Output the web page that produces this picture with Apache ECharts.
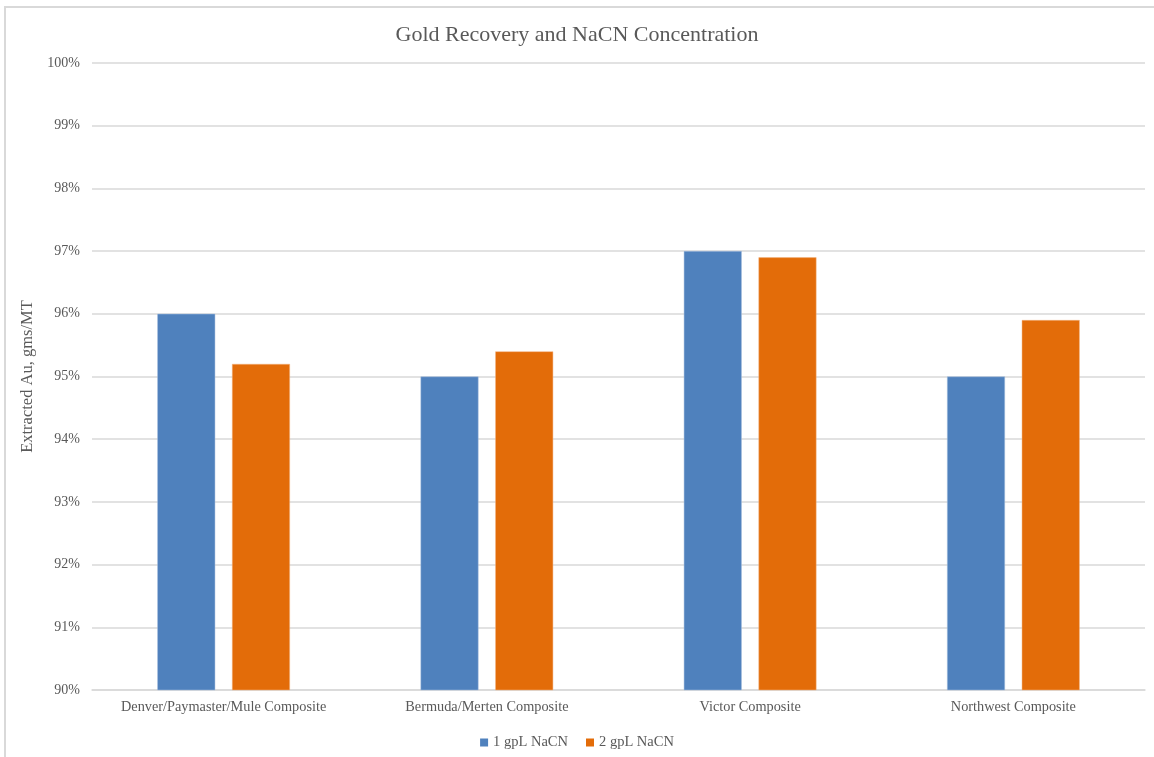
<!DOCTYPE html>
<html>
<head>
<meta charset="utf-8">
<script src="https://cdn.jsdelivr.net/npm/echarts@6/dist/echarts.min.js"></script>
<style>
html,body{margin:0;padding:0;background:#fff;}
#frame{position:absolute;left:4px;top:6px;width:2000px;height:2000px;border-left:2px solid #d9d9d9;border-top:2px solid #d9d9d9;box-sizing:border-box;}
#chart{position:absolute;left:0;top:0;width:1154px;height:757px;}
</style>
</head>
<body>
<div id="frame"></div>
<div id="chart"></div>
<script>
const categories = ['Denver/Paymaster/Mule Composite', 'Bermuda/Merten Composite', 'Victor Composite', 'Northwest Composite'];
const seriesNames = ['1 gpL NaCN', '2 gpL NaCN'];
const oneGpl = [96.0, 95.0, 97.0, 95.0];
const twoGpl = [95.2, 95.4, 96.9, 95.9];
const yMin = 90, yMax = 100, yStep = 1;

const font = '"Liberation Serif", "Times New Roman", serif';
const chart = echarts.init(document.getElementById('chart'), null, {renderer: 'canvas'});
chart.setOption({
  animation: false,
  backgroundColor: 'transparent',
  title: {
    text: 'Gold Recovery and NaCN Concentration',
    left: 'center', top: 19,
    textStyle: {fontFamily: font, fontSize: 22, fontWeight: 'normal', color: '#595959'}
  },
  legend: {
    data: seriesNames,
    top: 730, left: 'center',
    itemWidth: 8, itemHeight: 8, itemGap: 18,
    icon: 'rect',
    itemStyle: {borderWidth: 0},
    textStyle: {fontFamily: font, fontSize: 14.5, color: '#595959'}
  },
  grid: {left: 92, right: 9, top: 63, bottom: 67},
  xAxis: {
    type: 'category',
    data: categories,
    axisLine: {lineStyle: {color: '#d9d9d9', width: 1.5}},
    axisTick: {show: false},
    axisLabel: {fontFamily: font, fontSize: 14.3, color: '#595959', margin: 10, interval: 0}
  },
  yAxis: {
    type: 'value',
    min: yMin, max: yMax, interval: yStep,
    name: 'Extracted Au, gms/MT',
    nameLocation: 'middle', nameGap: 44,
    nameTextStyle: {fontFamily: font, fontSize: 16.5, color: '#595959'},
    axisLine: {show: false},
    axisTick: {show: false},
    axisLabel: {formatter: '{value}%', fontFamily: font, fontSize: 14, color: '#595959', margin: 12},
    splitLine: {lineStyle: {color: '#d9d9d9', width: 1.5}}
  },
  series: [
    {name: seriesNames[0], type: 'bar', data: oneGpl, barWidth: '22%', barGap: '29%',
     itemStyle: {color: '#4f81bd', borderColor: '#a7bfdf', borderWidth: 0.5}},
    {name: seriesNames[1], type: 'bar', data: twoGpl, barWidth: '22%', barGap: '29%',
     itemStyle: {color: '#e36c09', borderColor: '#f2b584', borderWidth: 0.5}}
  ]
});
</script>
</body>
</html>
